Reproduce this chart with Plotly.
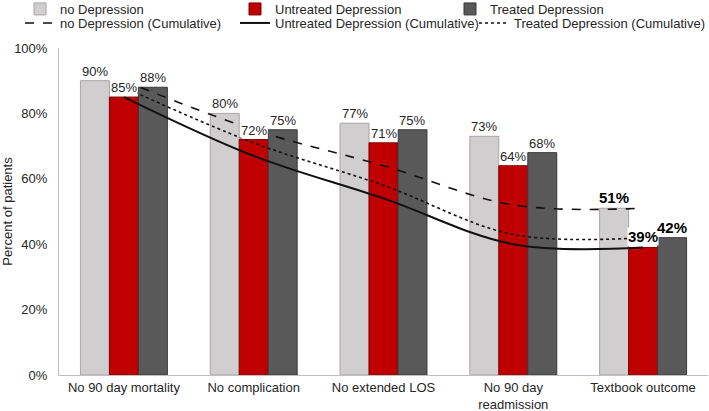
import plotly.graph_objects as go

categories = ["No 90 day mortality", "No complication", "No extended LOS",
              "No 90 day<br>readmission", "Textbook outcome"]
no_dep = [90, 80, 77, 73, 51]
untreated = [85, 72, 71, 64, 39]
treated = [88, 75, 75, 68, 42]
no_dep_cum = [90, 75, 64, 52, 51]
untreated_cum = [85, 67, 54, 40, 39]
treated_cum = [88, 71, 58, 43, 42]

W, H = 709, 411
ML, MR, MT, MB = 59, 1, 48, 36
BARGAP = 0.33
FONT = "Liberation Sans, Arial, sans-serif"
TXT = "#262626"
PW = W - ML - MR
PH = H - MT - MB
ENTRY = 170       # legend entry width (px)
ENTRY_STEP = 215  # spacing between legend columns (px)
LEG_LEFT = 20     # left edge of the legend (px)
# left edges (px) of the one-entry legends of row 2
ROW2_LEFTS = [LEG_LEFT, LEG_LEFT + ENTRY_STEP, LEG_LEFT + 2 * ENTRY_STEP + 24]

fig = go.Figure()
bar_specs = [
    ("no Depression", no_dep, "#d0cece", "#a6a6a6"),
    ("Untreated Depression", untreated, "#c00000", "#7f0000"),
    ("Treated Depression", treated, "#595959", "#3a3a3a"),
]
for name, vals, col, lc in bar_specs:
    fig.add_trace(go.Bar(x=categories, y=vals, name=name, legend="legend",
                         marker=dict(color=col, line=dict(color=lc, width=1))))

line_specs = [
    ("no Depression (Cumulative)", no_dep_cum, "dash", 1.6, "legend2"),
    ("Untreated Depression (Cumulative)", untreated_cum, "solid", 2, "legend3"),
    ("Treated Depression (Cumulative)", treated_cum, "dot", 1.6, "legend4"),
]
for name, vals, dash, w, leg in line_specs:
    fig.add_trace(go.Scatter(x=categories, y=vals, name=name, mode="lines",
                             legend=leg,
                             line=dict(color="#111111", dash=dash, width=w,
                                       shape="spline", smoothing=1.0)))

# value labels with white background
cat_px = PW / len(categories)
bar_px = cat_px * (1 - BARGAP) / 3
for k, (name, vals, _, _) in enumerate(bar_specs):
    for i, (c, v) in enumerate(zip(categories, vals)):
        last = i == len(categories) - 1
        fig.add_annotation(x=c, y=v, xref="x", yref="y", text=f"{v}%",
                           showarrow=False, yanchor="bottom",
                           xshift=(k - 1) * bar_px, yshift=1,
                           bgcolor="white", borderpad=0,
                           font=dict(family=FONT, size=15 if last else 13,
                                     color="black" if last else TXT,
                                     weight="bold" if last else "normal"))

leg_common = dict(orientation="h", xref="paper", yref="paper",
                  xanchor="left", yanchor="middle",
                  font=dict(family=FONT, size=13, color=TXT),
                  itemwidth=30, bgcolor="rgba(0,0,0,0)")
row1_y = 1 + (MT - 9) / PH
row2_y = 1 + (MT - 23) / PH

legends = {
    "legend": dict(x=(LEG_LEFT - ML) / PW, y=row1_y, entrywidth=ENTRY,
                   entrywidthmode="pixels", **leg_common),
}
for j, left in enumerate(ROW2_LEFTS):
    legends[f"legend{j + 2}"] = dict(x=(left - ML) / PW, y=row2_y, **leg_common)

fig.update_layout(
    width=W, height=H,
    margin=dict(l=ML, r=MR, t=MT, b=MB, autoexpand=False),
    paper_bgcolor="white", plot_bgcolor="white",
    barmode="group", bargap=BARGAP, bargroupgap=0,
    font=dict(family=FONT, size=13, color=TXT),
    showlegend=True,
    xaxis=dict(showline=True, linecolor="#bfbfbf", linewidth=1,
               showgrid=False, ticks="", tickfont=dict(size=13, color=TXT)),
    yaxis=dict(range=[0, 100], dtick=20, ticksuffix="%", showline=True,
               linecolor="#bfbfbf", linewidth=1, showgrid=False, ticks="",
               ticklabelstandoff=8, zeroline=False,
               tickfont=dict(size=13, color=TXT),
               title=dict(text="Percent of patients", standoff=2,
                          font=dict(size=13, color=TXT))),
    **legends,
)

fig.write_html("out.html", config={"displayModeBar": False},
               post_script="document.body.style.margin='0';")
